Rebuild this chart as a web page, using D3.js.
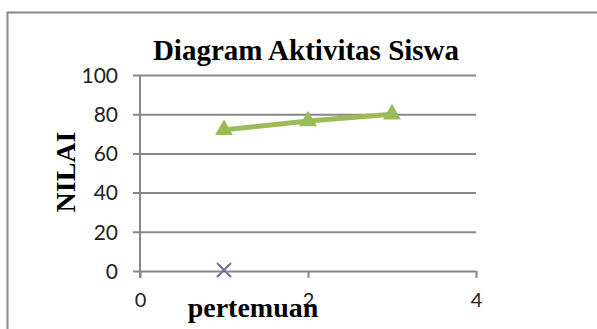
<!DOCTYPE html>
<html>
<head>
<meta charset="utf-8">
<script src="https://cdn.jsdelivr.net/npm/d3@7"></script>
<style>
  html, body { margin: 0; padding: 0; background: #fff; }
  svg { display: block; }
</style>
</head>
<body>
<svg id="chart" width="597" height="329"></svg>
<script>
// ---- data ----
const chartTitle = "Diagram Aktivitas Siswa";
const xTitle = "pertemuan";
const yTitle = "NILAI";
const xTicks = [0, 2, 4];
const yTicks = [0, 20, 40, 60, 80, 100];
const greenX = [1, 2, 3];
const greenY = [72, 76.5, 80];
const purpleX = [1];
const purpleY = [0];

// ---- layout ----
const svg = d3.select("#chart");
const x = d3.scaleLinear().domain([0, 4]).range([140, 476]);
const y = d3.scaleLinear().domain([0, 100]).range([271, 75]);
const gridColor = "#878787";

// outer border
svg.append("rect")
  .attr("x", 7.5).attr("y", 12.5)
  .attr("width", 620).attr("height", 340)
  .attr("fill", "none").attr("stroke", gridColor).attr("stroke-width", 2);

// title
svg.append("text")
  .attr("x", 306).attr("y", 60)
  .attr("text-anchor", "middle")
  .attr("font-family", "Liberation Serif, Times New Roman, serif")
  .attr("font-weight", "bold").attr("font-size", 29)
  .attr("fill", "#000")
  .text(chartTitle);

// y axis with gridlines
const yAxis = d3.axisLeft(y).tickValues(yTicks).tickFormat(d3.format("d"))
  .tickSize(-(476 - 140)).tickSizeOuter(0).tickPadding(22);
const gy = svg.append("g").attr("transform", "translate(140,0)").call(yAxis);
gy.select(".domain").remove();
gy.selectAll(".tick line")
  .attr("x1", -7).attr("x2", 476 - 140)
  .attr("stroke", gridColor).attr("stroke-width", 2);
gy.selectAll(".tick text")
  .attr("font-family", "Lato, Liberation Sans, sans-serif")
  .attr("font-size", 21).attr("fill", "#222")
  .attr("dy", "0.35em");
// vertical axis line
svg.append("line")
  .attr("x1", 140).attr("x2", 140).attr("y1", y(100)).attr("y2", y(0) + 7)
  .attr("stroke", gridColor).attr("stroke-width", 2);

// x axis
const xAxis = d3.axisBottom(x).tickValues(xTicks).tickFormat(d3.format("d"))
  .tickSize(7).tickSizeOuter(0).tickPadding(15);
const gx = svg.append("g").attr("transform", `translate(0,${y(0)})`).call(xAxis);
gx.select(".domain").remove();
gx.selectAll(".tick line").attr("stroke", gridColor).attr("stroke-width", 2);
gx.selectAll(".tick text")
  .attr("font-family", "Lato, Liberation Sans, sans-serif")
  .attr("font-size", 20).attr("fill", "#222");

// axis titles
svg.append("text")
  .attr("x", 253).attr("y", 317)
  .attr("text-anchor", "middle")
  .attr("font-family", "Liberation Serif, Times New Roman, serif")
  .attr("font-weight", "bold").attr("font-size", 28)
  .attr("fill", "#000")
  .text(xTitle);
svg.append("text")
  .attr("transform", "translate(75,172) rotate(-90)")
  .attr("text-anchor", "middle")
  .attr("font-family", "Liberation Serif, Times New Roman, serif")
  .attr("font-weight", "bold").attr("font-size", 28)
  .attr("fill", "#000")
  .text(yTitle);

// green series
const green = greenX.map((d, i) => [d, greenY[i]]);
svg.append("path")
  .datum(green)
  .attr("fill", "none").attr("stroke", "#9BBB59").attr("stroke-width", 5)
  .attr("d", d3.line().x(d => x(d[0])).y(d => y(d[1])));
svg.selectAll(".tri").data(green).enter().append("path")
  .attr("class", "tri")
  .attr("transform", d => `translate(${x(d[0])},${y(d[1])})`)
  .attr("d", d3.symbol().type(d3.symbolTriangle).size(140)())
  .attr("fill", "#9BBB59");

// purple series
const purple = purpleX.map((d, i) => [d, purpleY[i]]);
svg.selectAll(".cross").data(purple).enter().append("path")
  .attr("class", "cross")
  .attr("transform", d => `translate(${x(d[0])},${y(d[1]) - 1})`)
  .attr("d", "M-7,-7L7,7M-7,7L7,-7")
  .attr("stroke", "#8064A2").attr("stroke-width", 2).attr("fill", "none");
</script>
</body>
</html>
